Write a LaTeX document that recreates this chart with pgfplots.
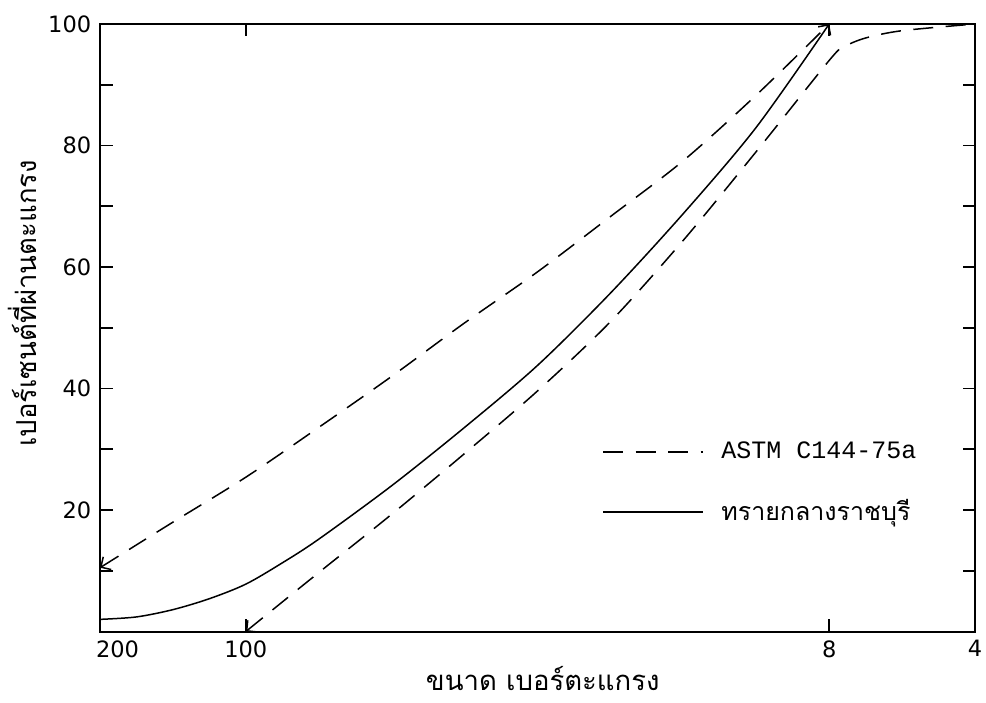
\documentclass[border=0pt]{standalone}
\usepackage{pgfplots}
\pgfplotsset{compat=1.18}
\usepackage{fontspec}
\setmainfont{DejaVu Sans}
\newfontfamily\thaifont[Script=Thai]{Loma}
\newfontfamily\typefont{Liberation Mono}
\usetikzlibrary{arrows.meta}

% x positions: sieve numbers on a log scale, one unit per halving of size
% 0 = No.200, 1 = No.100, 5 = No.8, 6 = No.4
\begin{document}
\begin{tikzpicture}
\begin{axis}[
    scale only axis,
    width=350pt, height=243pt,
    xmin=0, xmax=6, ymin=0, ymax=100,
    axis line style={line width=0.8pt},
    tick style={line width=0.7pt, black},
    tick align=inside,
    major tick length=5pt,
    xtick={0,1,5,6}, xticklabels={\hspace{14pt}200,100,8,4},
    ytick={10,20,...,100}, yticklabels={,20,,40,,60,,80,,100},
    tick label style={font=\fontsize{9}{10}\selectfont},
    xlabel={\thaifont ขนาด เบอร์ตะแกรง},
    ylabel={\thaifont เปอร์เซนต์ที่ผ่านตะแกรง},
    label style={font=\fontsize{11}{13}\selectfont},
    xlabel style={at={(axis description cs:0.506,-0.078)}, anchor=center},
    ylabel style={at={(axis description cs:-0.089,0.54)}, anchor=center},
    legend style={draw=none, fill=none, at={(rel axis cs:0.565,0.33)},
        anchor=north west, row sep=11pt, cells={anchor=west}},
    legend image code/.code={\draw[#1, arrows=-] (0pt,0pt) -- (40pt,0pt);
        \path[arrows=-] (0pt,0pt) (45pt,0pt);},
    every axis plot/.append style={line width=0.6pt, black},
    dashstyle/.style={dash pattern=on 8pt off 5pt},
]
% upper limit, ASTM C144-75a
\addplot[dashstyle, smooth, {Straight Barb[length=3pt,width=6pt]}-]
    coordinates {
        (0,10.5)(0.5,18.0)(1,25.4)(1.5,33.6)(2,42.0)(2.5,50.8)(3,59.2)
        (3.5,68.3)(4,77.5)(4.5,88.3)(5,100)
    };
\addlegendentry{\typefont ASTM C144-75a}
% river sand, Ratchaburi
\addplot[smooth, -{Straight Barb[length=3pt,width=6pt]}]
    coordinates {
        (0,2.0)(0.25,2.4)(0.5,3.6)(0.75,5.4)(1,7.8)(1.25,11.3)(1.5,15.2)
        (2,24.0)(2.5,33.6)(3,43.8)(3.5,55.7)(4,68.8)(4.5,83.0)(5,100)
    };
\addlegendentry{\thaifont ทรายกลางราชบุรี}
% lower limit, ASTM C144-75a
\addplot[dashstyle, smooth, forget plot, {Straight Barb[length=3pt,width=6pt]}-]
    coordinates {
        (1,0)(1.5,9.7)(2,19.3)(2.5,29.3)(3,39.6)(3.5,51.0)(4,64.4)
        (4.5,79.0)(5,94.0)(5.1,96.2)(5.25,97.7)(5.5,98.9)(6,100)
    };
\end{axis}
\pgfresetboundingbox
\path[use as bounding box]
    ([shift={(-40pt,-28.4pt)}]current axis.south west)
    rectangle ([shift={(4.4pt,9.6pt)}]current axis.north east);
\end{tikzpicture}
\end{document}
